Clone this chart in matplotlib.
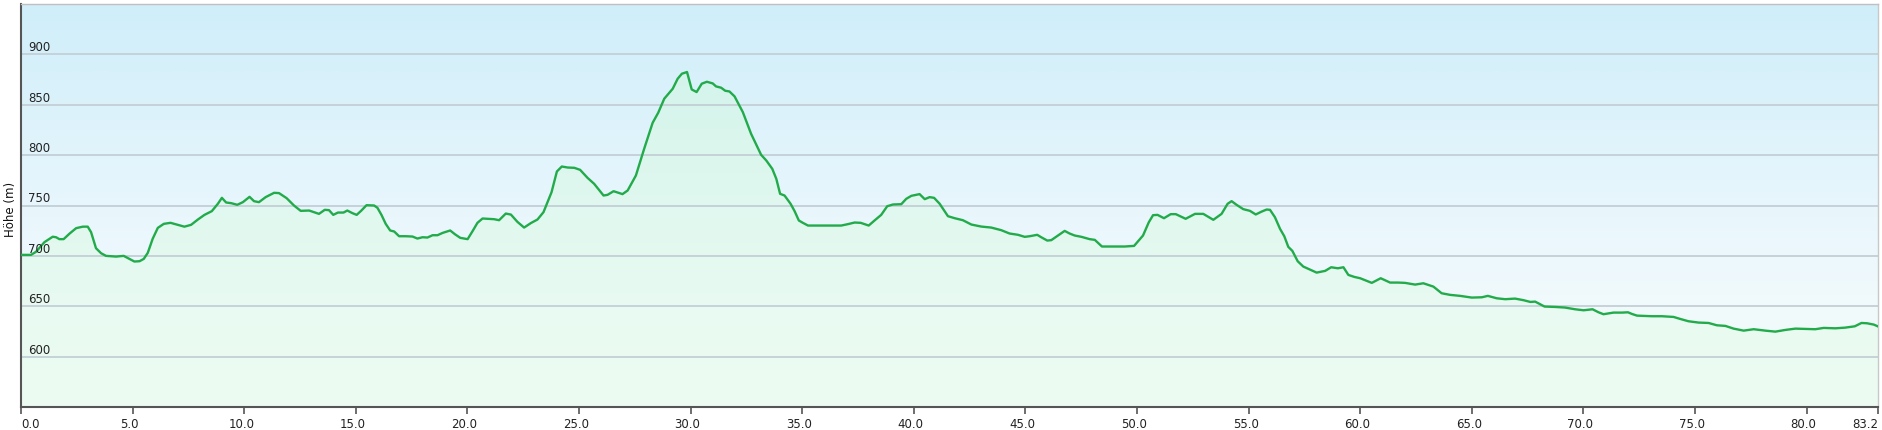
import numpy as np
import matplotlib
matplotlib.use("Agg")
import matplotlib.pyplot as plt
import matplotlib.transforms as mtransforms

# ---- data ----
distance_km = [
    0.0, 0.45, 0.67, 1.05, 1.42, 1.57, 1.72, 1.91, 2.17, 2.47, 2.77, 2.99, 3.14, 3.36, 3.59, 3.81,
    4.26, 4.6, 4.86, 5.08, 5.31, 5.5, 5.68, 5.9, 6.13, 6.4, 6.7, 7.03, 7.32, 7.62, 7.92, 8.22,
    8.55, 8.82, 9.0, 9.19, 9.42, 9.69, 9.94, 10.24,
    10.44, 10.66, 10.96, 11.34, 11.56, 11.9, 12.23, 12.53, 12.91, 13.35, 13.61, 13.8, 13.99, 14.2,
    14.45, 14.62, 14.85, 15.04, 15.25, 15.48, 15.82, 15.97, 16.15, 16.34, 16.54, 16.72, 16.94,
    17.24, 17.54, 17.76, 17.99, 18.21, 18.44, 18.66, 18.89, 19.23, 19.44, 19.68, 20.01, 20.23,
    20.45, 20.68,
    21.2, 21.42, 21.72, 21.95, 22.24, 22.54, 22.84, 23.14, 23.41, 23.77, 24.01, 24.23, 24.49,
    24.79, 25.05, 25.38, 25.68, 26.1, 26.28, 26.55, 26.95, 27.18, 27.55, 27.92, 28.3, 28.55,
    28.82, 29.2, 29.42, 29.61, 29.84, 30.05, 30.27, 30.5, 30.73, 30.99,
    31.14, 31.37, 31.55, 31.74, 31.97, 32.34, 32.71, 33.16, 33.39, 33.66, 33.84, 34.01, 34.21,
    34.48, 34.66, 34.85, 35.03, 35.26, 35.85, 36.75, 37.05, 37.35, 37.62, 37.98, 38.24, 38.54,
    38.81, 39.07, 39.44, 39.66, 39.89, 40.26, 40.49, 40.71, 40.91, 41.16,
    41.53, 41.83, 42.2, 42.58, 43.02, 43.47, 43.92, 44.29, 44.67, 44.97, 45.19, 45.53, 45.71,
    45.98, 46.16, 46.46, 46.76, 46.98, 47.21, 47.51, 47.88, 48.11, 48.43, 49.0, 49.45, 49.87,
    50.27, 50.53, 50.72, 50.92, 51.21, 51.51, 51.74,
    52.18, 52.6, 52.97, 53.42, 53.79, 54.06, 54.24, 54.46, 54.76, 55.06, 55.32, 55.59, 55.81,
    55.96, 56.18, 56.41, 56.6, 56.78, 56.96, 57.2, 57.45, 57.71, 58.05, 58.43, 58.7, 59.0,
    59.25, 59.47, 59.74, 60.0, 60.52, 60.92, 61.34, 61.71, 62.01,
    62.46, 62.83, 63.28, 63.65, 64.03, 64.48, 65.0, 65.45, 65.72, 66.12, 66.5, 66.94, 67.32,
    67.62, 67.84, 68.26, 68.74, 69.18, 69.63, 70.01, 70.41, 70.68, 70.9, 71.35, 71.73, 72.0,
    72.17, 72.4,
    73.07, 73.52, 74.04, 74.34, 74.71, 75.16, 75.61, 75.98, 76.36, 76.73, 77.18, 77.63, 78.15,
    78.6, 79.05, 79.5, 79.94, 80.39, 80.77, 81.29, 81.74, 82.16, 82.46, 82.71, 83.01, 83.2,
]
elevation_m = [
    701, 701, 704, 713.6, 719, 718.5, 716.6, 716.6, 722, 727.5, 729, 729, 723.5, 707.6, 702.6, 700,
    699.3, 700, 697, 694.4, 694.7, 697, 703, 717, 727.8, 731.8, 732.8, 730.8, 729, 730.8, 736, 740.7,
    744.4, 751.7, 757.6, 753, 752.3, 750.7, 753.3, 758.6,
    754.3, 753.3, 758.3, 762.6, 762.3, 757.3, 750, 744.7, 745, 741.7, 745.7, 745.4, 740.7, 743,
    743, 745, 742.4, 740.7, 745, 750.3, 750, 747.7, 740.7, 731.8, 725.2, 724.2, 719.5,
    719.5, 719.2, 717.2, 718.5, 718.2, 720.5, 720.5, 722.8, 725.2, 721.5, 717.9, 716.6, 724.5,
    732.8, 737.1,
    736.4, 735.4, 742, 741, 733.8, 728.1, 732.5, 736.1, 743.4, 763.2, 783.8, 788.7, 787.7,
    787.4, 785.4, 777.5, 771.5, 759.9, 760.6, 764.2, 761.3, 764.9, 779.8, 806.3, 832.1, 842.1,
    856, 865.9, 875.8, 880.8, 882.5, 865.2, 862.6, 870.9, 872.8, 871.2,
    868.2, 866.9, 863.9, 863.2, 858.3, 842.7, 821.2, 800.3, 794.7, 786.4, 776.5, 761.6, 759.9,
    751.7, 744.4, 735.1, 732.8, 730.1, 730.1, 730.1, 731.5, 733.1, 732.8, 730.1, 735.1, 740.7,
    749.3, 751, 751.3, 756.6, 759.6, 761.3, 756.3, 758.3, 757.6, 751.7,
    739.4, 737.4, 735.4, 731.1, 729.1, 728.1, 725.5, 722.2, 720.9, 718.9, 719.5, 720.9, 718.5,
    715.2, 715.6, 720.2, 724.8, 722.2, 720.2, 718.9, 716.6, 715.9, 709.3, 709.3, 709.3, 709.9,
    720.2, 733.4, 740.4, 740.7, 737.4, 741.4, 741.4,
    736.8, 741.7, 741.7, 735.8, 741.7, 751.7, 754.3, 750.7, 746.4, 744.7, 741.1, 744, 746,
    745.7, 738.4, 726.8, 719.5, 708.9, 705, 694.7, 689.4, 686.8, 683.4, 685.1, 688.7, 687.7,
    688.7, 681.1, 679.1, 677.8, 673.2, 677.8, 673.5, 673.5, 673.2,
    671.5, 672.8, 669.5, 662.9, 661.3, 660.3, 658.6, 658.9, 660.3, 657.9, 657, 657.6, 656,
    654.3, 654.6, 649.7, 649.3, 648.7, 647, 646, 647, 644, 642.1, 643.7, 643.7, 644,
    642.4, 640.7,
    640.1, 640.1, 639.4, 637.4, 635.1, 633.8, 633.4, 631.1, 630.5, 627.8, 625.8, 627.2, 625.8,
    624.8, 626.5, 627.8, 627.5, 627.2, 628.5, 628.1, 628.8, 630.1, 633.4, 633.1, 631.8, 630,
]
x_ticks = [0.0, 5.0, 10.0, 15.0, 20.0, 25.0, 30.0, 35.0, 40.0, 45.0, 50.0, 55.0, 60.0, 65.0,
           70.0, 75.0, 80.0, 83.2]
x_tick_labels = ["0.0", "5.0", "10.0", "15.0", "20.0", "25.0", "30.0", "35.0", "40.0", "45.0",
                 "50.0", "55.0", "60.0", "65.0", "70.0", "75.0", "80.0", "83.2"]
y_ticks = [600, 650, 700, 750, 800, 850, 900]
y_tick_labels = ["600", "650", "700", "750", "800", "850", "900"]
y_axis_label = "Höhe (m)"

# ---- figure ----
W, H = 1882, 431
fig = plt.figure(figsize=(W / 100, H / 100), dpi=100)
fig.patch.set_facecolor("white")
L, R, T, B = 21, 1878, 5, 408
ax = fig.add_axes([L / W, 1 - B / H, (R - L) / W, (B - T) / H])

xmin, xmax = 0.0, 83.2
ymin, ymax = 550, 950
ax.set_xlim(xmin, xmax)
ax.set_ylim(ymin, ymax)

# background gradient (top: light blue, bottom: very light green)
ys = np.linspace(ymax, ymin, 400)
bg_anchor_y = [950, 850, 750, 650, 550]
bg_anchor_c = np.array([[207, 238, 250], [219, 242, 251], [232, 246, 253],
                        [241, 250, 252], [240, 252, 245]]) / 255.0
bg = np.stack([np.interp(ys, bg_anchor_y[::-1], bg_anchor_c[::-1, i]) for i in range(3)], axis=-1)
bg = bg[:, None, :]
ax.imshow(bg, extent=[xmin, xmax, ymin, ymax], aspect="auto", zorder=0, interpolation="bilinear")

# filled area under curve with green gradient
fg_anchor_y = [950, 880, 750, 650, 550]
fg_anchor_c = np.array([[208, 242, 234], [212, 244, 235], [224, 248, 239],
                        [232, 250, 241], [237, 252, 243]]) / 255.0
fg = np.stack([np.interp(ys, fg_anchor_y[::-1], fg_anchor_c[::-1, i]) for i in range(3)], axis=-1)
fg = fg[:, None, :]
poly = ax.fill_between(distance_km, elevation_m, ymin, facecolor="none", edgecolor="none", zorder=1)
im = ax.imshow(fg, extent=[xmin, xmax, ymin, ymax], aspect="auto", zorder=1, interpolation="bilinear")
im.set_clip_path(poly.get_paths()[0], transform=ax.transData)

# grid lines
for yv in y_ticks:
    ax.axhline(yv, color="#c3cfd6", lw=1.3, zorder=2)

# profile line
ax.plot(distance_km, elevation_m, color="#22ab4a", lw=1.7, zorder=3, solid_joinstyle="round")

# y tick labels drawn inside the plot
for yv, lab in zip(y_ticks, y_tick_labels):
    tr = mtransforms.offset_copy(mtransforms.blended_transform_factory(ax.transAxes, ax.transData),
                                 fig=fig, x=7, y=4, units="dots")
    ax.text(0, yv, lab, transform=tr, ha="left", va="baseline", fontsize=8.5,
            color="#222222", zorder=4)

ax.set_yticks([])
fig.text(11 / W, 1 - 209 / H, y_axis_label, rotation=90, ha="center", va="center",
         fontsize=8.5, color="#111111")

# x ticks
ax.set_xticks(x_ticks)
ax.set_xticklabels(x_tick_labels, fontsize=8.5, color="#222222")
ax.tick_params(axis="x", direction="out", length=5, width=1.2, color="#555555", pad=2)
labels = ax.get_xticklabels()
for i, lab in enumerate(labels):
    if i == 0:
        lab.set_ha("left")
    elif i == len(labels) - 1:
        lab.set_ha("right")
    else:
        lab.set_transform(lab.get_transform() + mtransforms.Affine2D().translate(-3, 0))

for side in ["left", "bottom"]:
    ax.spines[side].set_color("#555555")
    ax.spines[side].set_linewidth(1.5)
ax.spines["top"].set_color("#c0c0c0")
ax.spines["top"].set_linewidth(1.0)
ax.spines["right"].set_color("#c8c8c8")
ax.spines["right"].set_linewidth(1.0)

fig.savefig("out.png", dpi=100)
